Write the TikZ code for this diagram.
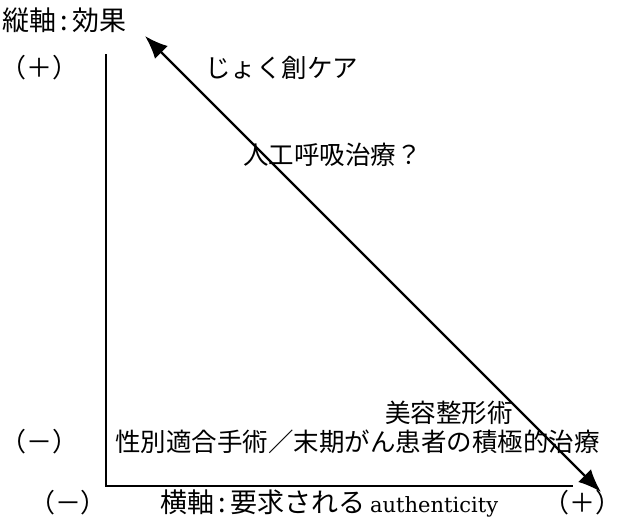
\documentclass[tikz,border=0pt]{standalone}
\usepackage{fontspec}
\newfontfamily\jpfont{Noto Sans CJK JP}
\newfontfamily\latinserif{DejaVu Serif}
\usetikzlibrary{arrows.meta}
\tikzset{
  jp/.style={font=\jpfont\fontsize{25.5}{25.5}\selectfont, inner sep=0pt},
  jpl/.style={font=\jpfont\fontsize{27}{27}\selectfont, inner sep=0pt},
  sign/.style={font=\jpfont\fontsize{26}{26}\selectfont, inner sep=0pt},
  axisline/.style={line width=2.6pt},
  diag/.style={line width=2.4pt, {Latex[length=23pt,width=18pt]}-{Latex[length=23pt,width=18pt]}},
}
\begin{document}
\begin{tikzpicture}[x=1pt,y=-1pt]
\useasboundingbox (0,0) rectangle (630,522);
% axes
\coordinate (top) at (106,54);
\coordinate (corner) at (106,486);
\coordinate (right) at (573,486);
\draw[axisline] (top) -- (corner) -- (right);
% diagonal
\coordinate (a1) at (145,36);
\coordinate (a2) at (601,492);
\draw[diag] (a1) -- (a2);
% labels
\node[jpl, anchor=west] (ylab) at (2,20) {縦軸\,:\,効果};
\node[sign] (yplus) at (40,68) {（＋）};
\node[sign] (yminus) at (40,442) {（－）};
\node[jp, anchor=west] (t1) at (205,68) {じょく創ケア};
\node[jp, anchor=west] (t2) at (243,155) {人工呼吸治療？};
\node[jp, anchor=west] (t3) at (385,413) {美容整形術};
\node[jp, anchor=west] (t4) at (115,442) {性別適合手術／末期がん患者の積極的治療};
\node[sign] (xminus) at (68,503) {（－）};
\node[jpl, anchor=west] (xlab) at (160,503) {横軸\,:\,要求される\,{\latinserif\fontsize{21}{21}\selectfont authenticity}};
\node[sign] (xplus) at (582,503) {（＋）};
\end{tikzpicture}
\end{document}
